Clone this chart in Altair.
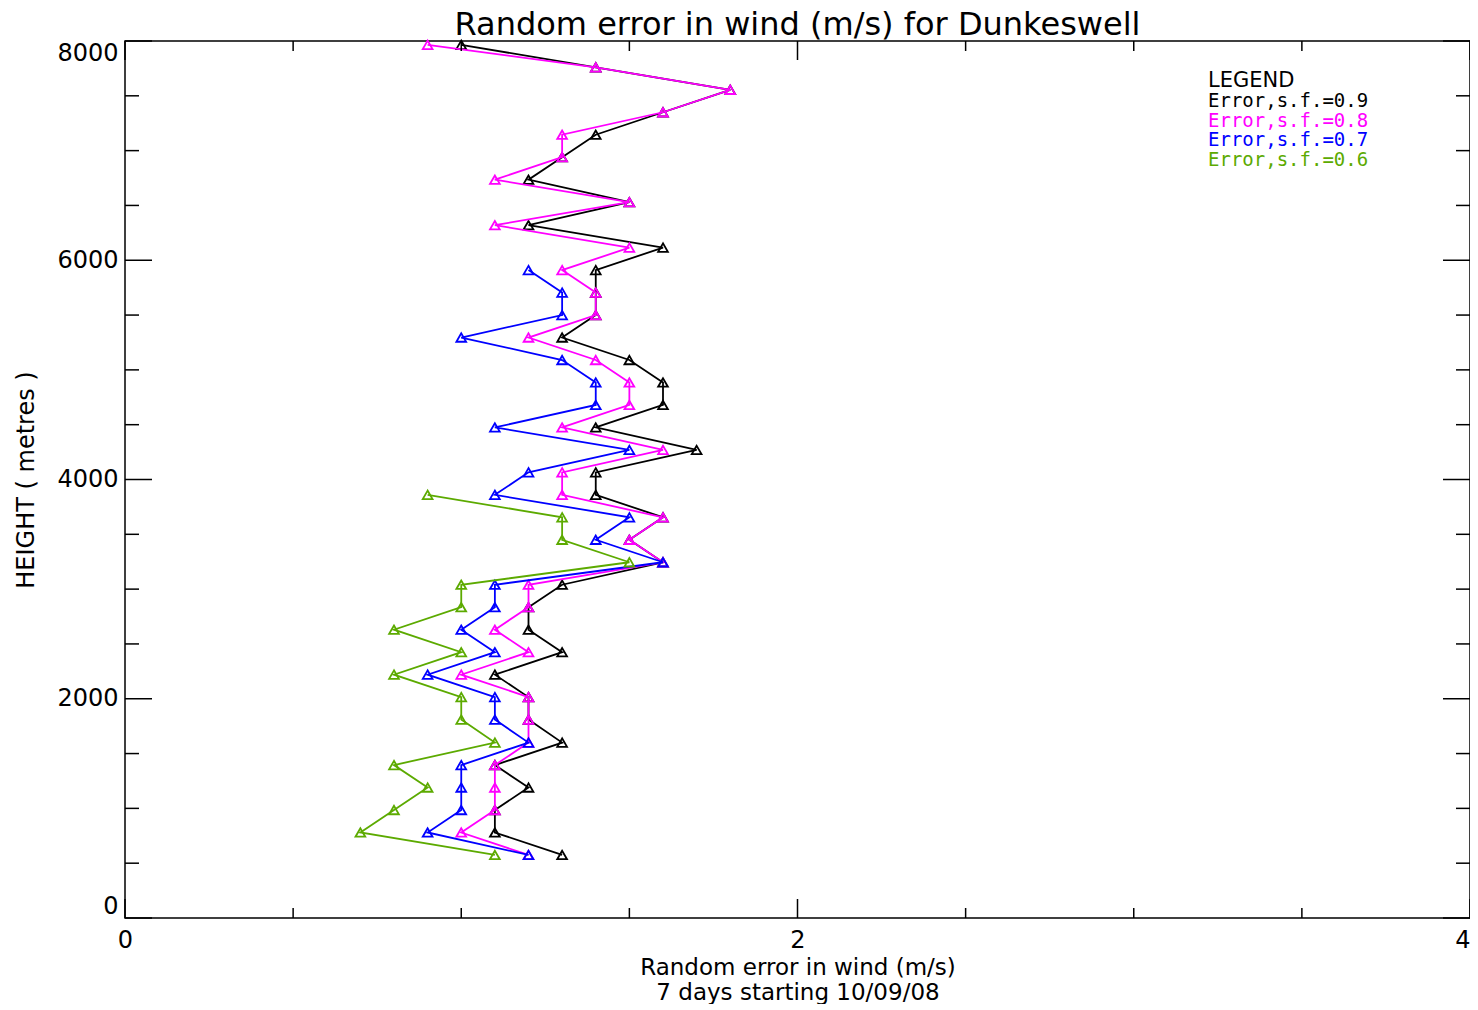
import altair as alt
import pandas as pd

# ---- data ----
heights = [575, 780, 985, 1190, 1395, 1600, 1810, 2015, 2220, 2425, 2630, 2835,
           3040, 3245, 3450, 3655, 3860, 4065, 4270, 4475, 4680, 4885, 5090, 5295,
           5500, 5705, 5910, 6115, 6320, 6530, 6735, 6940, 7145, 7350, 7555, 7760, 7965]

err_09 = [1.3, 1.1, 1.1, 1.2, 1.1, 1.3, 1.2, 1.2, 1.1, 1.3, 1.2, 1.2, 1.3, 1.6, 1.5, 1.6,
          1.4, 1.4, 1.7, 1.4, 1.6, 1.6, 1.5, 1.3, 1.4, 1.4, 1.4, 1.6, 1.2, 1.5, 1.2, 1.3,
          1.4, 1.6, 1.8, 1.4, 1.0]
err_08 = [1.2, 1.0, 1.1, 1.1, 1.1, 1.2, 1.2, 1.2, 1.0, 1.2, 1.1, 1.2, 1.2, 1.6, 1.5, 1.6,
          1.3, 1.3, 1.6, 1.3, 1.5, 1.5, 1.4, 1.2, 1.4, 1.4, 1.3, 1.5, 1.1, 1.5, 1.1, 1.3,
          1.3, 1.6, 1.8, 1.4, 0.9]
err_07 = [1.2, 0.9, 1.0, 1.0, 1.0, 1.2, 1.1, 1.1, 0.9, 1.1, 1.0, 1.1, 1.1, 1.6, 1.4, 1.5,
          1.1, 1.2, 1.5, 1.1, 1.4, 1.4, 1.3, 1.0, 1.3, 1.3, 1.2]
err_06 = [1.1, 0.7, 0.8, 0.9, 0.8, 1.1, 1.0, 1.0, 0.8, 1.0, 0.8, 1.0, 1.0, 1.5, 1.3, 1.3, 0.9]

series_names = ["Error,s.f.=0.9", "Error,s.f.=0.8", "Error,s.f.=0.7", "Error,s.f.=0.6"]
series_values = [err_09, err_08, err_07, err_06]
series_colors = ["#000000", "#ff00ff", "#0000ff", "#5caa00"]

legend_title = "LEGEND"
chart_title = "Random error in wind (m/s) for Dunkeswell"
x_title = ["Random error in wind (m/s)", "7 days starting 10/09/08"]
y_title = "HEIGHT ( metres )"

x_major = [0, 2, 4]
x_minor = [0.5, 1, 1.5, 2.5, 3, 3.5]
y_major = [0, 2000, 4000, 6000, 8000]
y_minor = [500, 1000, 1500, 2500, 3000, 3500, 4500, 5000, 5500, 6500, 7000, 7500]

# ---- build tables ----
rows = []
for name, vals in zip(series_names, series_values):
    for h, v in zip(heights, vals):
        rows.append({"series": name, "err": v, "h": h})
df = pd.DataFrame(rows)

W, H = 1345, 877
FONT = "DejaVu Sans"

xs = alt.Scale(domain=[0, 4], nice=False, zero=False)
ys = alt.Scale(domain=[0, 8000], nice=False, zero=False)
cs = alt.Scale(domain=series_names, range=series_colors)

x_axis = alt.Axis(values=x_major, format="d", ticks=False, domain=False, grid=False,
                  labelFont=FONT, labelFontSize=24, labelPadding=10, labelColor="black",
                  labelFlush=False,
                  labelAlign={"condition": {"test": "datum.value >= 4", "value": "right"},
                              "value": "center"},
                  title=x_title, titleFont=FONT, titleFontSize=23, titleFontWeight="normal",
                  titleColor="black", titlePadding=4, titleLineHeight=25)
y_axis = alt.Axis(values=y_major, format="d", ticks=False, domain=False, grid=False,
                  labelFont=FONT, labelFontSize=24, labelPadding=7, labelColor="black",
                  labelFlush=True,
                  title=y_title, titleFont=FONT, titleFontSize=24, titleFontWeight="normal",
                  titleColor="black", titlePadding=18)

layers = []
for i, name in enumerate(series_names):
    base = alt.Chart(df).transform_filter(alt.datum.series == name)
    enc = dict(
        x=alt.X("err:Q", scale=xs, axis=x_axis),
        y=alt.Y("h:Q", scale=ys, axis=y_axis),
        color=alt.Color("series:N", scale=cs, legend=None),
    )
    layers.append(base.mark_line(strokeWidth=1.8).encode(order=alt.Order("h:Q"), **enc))
    layers.append(base.mark_point(shape="triangle-up", filled=False, size=95,
                                  strokeWidth=1.8, opacity=1).encode(**enc))


def xticks(vals, y0, y1):
    return alt.Chart(pd.DataFrame({"v": vals})).mark_rule(color="black", strokeWidth=1.5).encode(
        x=alt.X("v:Q", scale=xs, axis=x_axis), y=alt.value(y0), y2=alt.value(y1))


def yticks(vals, x0, x1):
    return alt.Chart(pd.DataFrame({"v": vals})).mark_rule(color="black", strokeWidth=1.5).encode(
        y=alt.Y("v:Q", scale=ys, axis=y_axis), x=alt.value(x0), x2=alt.value(x1))


XMAJ, XMIN, YMAJ, YMIN = 19, 10, 27, 14
layers += [
    xticks(x_major, H, H - XMAJ), xticks(x_minor, H, H - XMIN),
    xticks(x_major, 0, XMAJ), xticks(x_minor, 0, XMIN),
    yticks(y_major, 0, YMAJ), yticks(y_minor, 0, YMIN),
    yticks(y_major, W, W - YMAJ), yticks(y_minor, W, W - YMIN),
]

# chart title drawn as a text mark above the frame
layers.append(
    alt.Chart(pd.DataFrame({"t": [chart_title]})).mark_text(
        font=FONT, fontSize=32, align="center", baseline="alphabetic", color="black"
    ).encode(text="t:N", x=alt.value(W / 2), y=alt.value(-6))
)

# legend block: heading plus one coloured line per series
LEG_X, LEG_HEAD_Y, LEG_Y0, LEG_DY = 1083, 46, 66, 19.6
layers.append(
    alt.Chart(pd.DataFrame({"t": [legend_title]})).mark_text(
        font=FONT, fontSize=21, align="left", baseline="alphabetic", color="black"
    ).encode(text="t:N", x=alt.value(LEG_X), y=alt.value(LEG_HEAD_Y))
)
for j, txt in enumerate(series_names):
    layers.append(
        alt.Chart(pd.DataFrame({"series": [txt]})).mark_text(
            font="DejaVu Sans Mono", fontSize=19, align="left", baseline="alphabetic",
        ).encode(
            text="series:N",
            x=alt.value(LEG_X),
            y=alt.value(LEG_Y0 + LEG_DY * j),
            color=alt.Color("series:N", scale=cs, legend=None),
        )
    )

chart = alt.layer(*layers).properties(
    width=W, height=H,
    autosize=alt.AutoSizeParams(type="none"),
    padding={"left": 117, "top": 33, "right": 0, "bottom": 86},
).configure(background="white").configure_view(stroke="black", strokeWidth=1.5)

chart.save("out.html", embed_options={"renderer": "svg", "actions": False})
